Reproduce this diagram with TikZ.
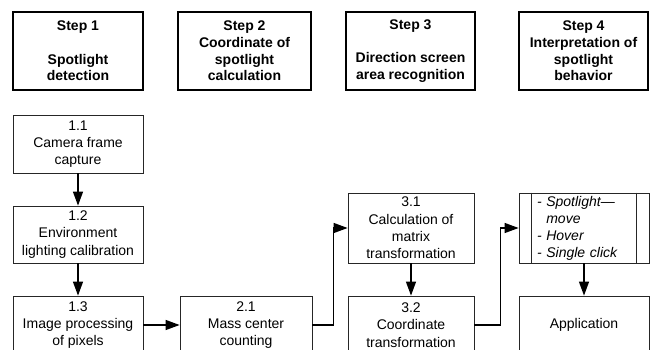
\documentclass[tikz,border=0pt]{standalone}
\usepackage{fontspec}
\setmainfont{Liberation Sans}
\usetikzlibrary{arrows.meta}
\begin{document}
\begin{tikzpicture}[x=1pt,y=-1pt,
  stepbox/.style={draw=black,line width=1.3pt,minimum width=130pt,minimum height=78pt,
    align=center,font=\fontsize{14}{16.7}\selectfont\bfseries,inner sep=0pt},
  procbox/.style={draw=black!85,line width=0.8pt,minimum width=130pt,
    align=center,font=\fontsize{14}{17.3}\selectfont,inner sep=0pt},
  conn/.style={line width=1.3pt,-{Triangle[length=14pt,width=10pt]}}]
\useasboundingbox (0,0) rectangle (650,350);
% header boxes
\node[stepbox] (st1) at (78,51) {Step 1\\[16.7pt]Spotlight\\detection};
\node[stepbox,minimum width=133pt] (st2) at (244.5,51) {Step 2\\Coordinate of\\spotlight\\calculation};
\node[stepbox,minimum width=129pt] (st3) at (410.5,51) {Step 3\\[16.7pt]Direction screen\\area recognition};
\node[stepbox,minimum width=129pt] (st4) at (583.5,51) {Step 4\\Interpretation of\\spotlight\\behavior};
% process boxes
\node[procbox,minimum height=58pt] (s11) at (78,144) {1.1\\Camera frame\\capture};
\node[procbox,minimum height=57pt] (s12) at (78,234.5) {1.2\\Environment\\lighting calibration};
\node[procbox,minimum height=58pt] (s13) at (78,325) {1.3\\Image processing\\of pixels};
\node[procbox,minimum width=132pt,minimum height=58pt] (s21) at (246,325) {2.1\\Mass center\\counting};
\node[procbox,minimum width=126pt,minimum height=70pt] (s31) at (411,228) {3.1\\Calculation of\\matrix\\transformation};
\node[procbox,minimum width=126pt,minimum height=58pt] (s32) at (411,325) {3.2\\Coordinate\\transformation};
\node[procbox,minimum width=130pt,minimum height=70pt,align=left,text width=94pt,inner xsep=18pt,
  font=\fontsize{14}{17}\selectfont\itshape] (s41) at (584,228)
  {- Spotlight—\\\phantom{-\ }move\\- Hover\\- Single click};
\draw[draw=black!85,line width=0.8pt] ([xshift=13pt]s41.north west) -- ([xshift=13pt]s41.south west);
\draw[draw=black!85,line width=0.8pt] ([xshift=-13pt]s41.north east) -- ([xshift=-13pt]s41.south east);
\node[procbox,minimum height=58pt] (app) at (584,325) {Application};
% connectors
\draw[conn] (s11.south) -- (s12.north);
\draw[conn] (s12.south) -- (s13.north);
\draw[conn] (s13.east) -- (s21.west);
\draw[conn] (s21.east) -- ++(21,0) |- (s31.west);
\draw[conn] (s32.east) -- ++(26,0) |- (s41.west);
\draw[conn] (s31.south) -- (s32.north);
\draw[conn] (s41.south) -- (app.north);
\end{tikzpicture}
\end{document}
